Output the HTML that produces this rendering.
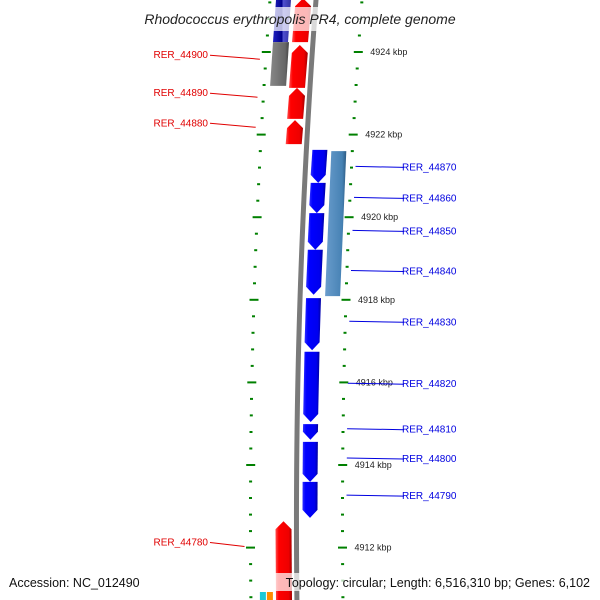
<!DOCTYPE html>
<html><head><meta charset="utf-8"><style>
html,body{margin:0;padding:0;background:#fff;}
svg{display:block;font-family:"Liberation Sans",sans-serif;}
</style></head><body>
<svg id="map" width="600" height="600" viewBox="0 0 600 600">
<defs>
<linearGradient id="gRed" x1="0" x2="1"><stop offset="0" stop-color="#ff5050"/><stop offset="0.2" stop-color="#ff0000"/><stop offset="0.8" stop-color="#ee0000"/><stop offset="1" stop-color="#a00000"/></linearGradient>
<linearGradient id="gBlue" x1="0" x2="1"><stop offset="0" stop-color="#3030ff"/><stop offset="0.2" stop-color="#0000ff"/><stop offset="0.8" stop-color="#0000ee"/><stop offset="1" stop-color="#0000a0"/></linearGradient>
<linearGradient id="gSteel" x1="0" x2="1"><stop offset="0" stop-color="#6a9ccc"/><stop offset="0.8" stop-color="#4682b4"/><stop offset="1" stop-color="#2e5c84"/></linearGradient>
<linearGradient id="gGray" x1="0" x2="1"><stop offset="0" stop-color="#888"/><stop offset="0.8" stop-color="#666"/><stop offset="1" stop-color="#444"/></linearGradient>
<linearGradient id="gNavy" x1="0" x2="1"><stop offset="0" stop-color="#2020c0"/><stop offset="0.5" stop-color="#00008b"/><stop offset="0.55" stop-color="#5050d0"/><stop offset="1" stop-color="#3030a0"/></linearGradient>
<linearGradient id="gBack" x1="0" x2="1"><stop offset="0" stop-color="#aaa"/><stop offset="0.5" stop-color="#777"/><stop offset="1" stop-color="#999"/></linearGradient>
</defs>
<g id="ticks"></g>
<path id="backbone" fill="none" stroke="#7a7a7a" stroke-width="5"/>
<g id="genes"></g>
<g id="labels"></g>
<rect x="0" y="7" width="600" height="24" fill="#fff" opacity="0.72"/>
<text x="300" y="24" text-anchor="middle" font-size="14" font-style="italic" fill="#222">Rhodococcus erythropolis PR4, complete genome</text>
<rect x="258" y="573" width="342" height="18" fill="#fff" opacity="0.72"/>
<text x="9" y="587" font-size="12.5" fill="#111">Accession: NC_012490</text>
<text x="590" y="587" text-anchor="end" font-size="12.5" fill="#111">Topology: circular; Length: 6,516,310 bp; Genes: 6,102</text>
</svg>
<script>
// tick labels (kbp)
const tickLabels = [4924, 4922, 4920, 4918, 4916, 4914, 4912];
// genes: names, start/end (kbp), strand, lane
const geneNames = ["g-top-navy","g-top-red","RER_44900","g-red-a","RER_44890","RER_44880","RER_44870","RER_44860","RER_44850","RER_44840","RER_44830","RER_44820","RER_44810","RER_44800","RER_44790","g-steel","RER_44780"];
const geneStart = [4925.3,4925.3,4924.24,4924.17,4923.13,4922.35,4921.63,4920.83,4920.10,4919.21,4918.04,4916.74,4914.99,4914.56,4913.59,4921.60,4912.64];
const geneEnd   = [4924.24,4924.24,4923.18,4923.13,4922.38,4921.77,4920.83,4920.10,4919.21,4918.12,4916.78,4915.04,4914.61,4913.59,4912.72,4918.09,4910.4];
const geneStrand= [0,1,0,1,1,1,-1,-1,-1,-1,-1,-1,-1,-1,-1,0,1];
const geneLane  = ["navy","red","gray","red","red","red","blue","blue","blue","blue","blue","blue","blue","blue","blue","steel","red"];
// label side/positions in kbp
const labelNames = ["RER_44900","RER_44890","RER_44880","RER_44780","RER_44870","RER_44860","RER_44850","RER_44840","RER_44830","RER_44820","RER_44810","RER_44800","RER_44790"];
const labelKbp   = [4923.85,4922.93,4922.2,4912.05,4921.23,4920.48,4919.68,4918.71,4917.48,4915.98,4914.88,4914.17,4913.27];
const labelSide  = [-1,-1,-1,-1,1,1,1,1,1,1,1,1,1];

const NS="http://www.w3.org/2000/svg";
const yOf = k => 52 + (4924 - k) * 41.3;
const bx = y => 316 - 0.075*y + 7.2e-5*y*y;
const laneOff = {navy:[-40,-25], red:[-21,-5], gray:[-40,-24], blue:[6,21], steel:[25,40]};
const laneFill = {navy:"url(#gNavy)", red:"url(#gRed)", gray:"url(#gGray)", blue:"url(#gBlue)", steel:"url(#gSteel)"};
function mk(tag, attrs, parent){const e=document.createElementNS(NS,tag);for(const a in attrs)e.setAttribute(a,attrs[a]);parent.appendChild(e);return e;}

// backbone
let d="";for(let y=-5;y<=605;y+=5){d+=(y===-5?"M":"L")+bx(y).toFixed(2)+","+y;}
document.getElementById("backbone").setAttribute("d",d);

// ticks
const tg=document.getElementById("ticks");
for(let k=4925.6;k>=4910.4;k-=0.4){
  const kk=Math.round(k*10)/10;const y=yOf(kk);if(y<-5||y>605)continue;
  const major=Math.abs(kk/2-Math.round(kk/2))<0.01;
  const len=major?9:3;
  [-46,46].forEach(off=>{
    const x=bx(y)+off;
    const t=mk("rect",{x:(x-len/2).toFixed(1),y:(y-1).toFixed(1),width:len,height:2,fill:"#008000"},tg);
    
    
  });
}
tickLabels.forEach(k=>{
  const y=yOf(k);
  const t=mk("text",{x:(bx(y)+58).toFixed(1),y:(y+3).toFixed(1),"font-size":"9",fill:"#222"},tg);
  t.textContent=k+" kbp";
  
  
});

// genes
const gg=document.getElementById("genes");
geneNames.forEach((n,i)=>{
  const y1=yOf(geneStart[i]), y2=yOf(geneEnd[i]);
  const o=laneOff[geneLane[i]];
  const A=(y)=>bx(y)+o[0], B=(y)=>bx(y)+o[1];
  let pts;const h=8;
  if(geneStrand[i]===1){ // arrow up at y1
    const ym=(A(y1)+B(y1))/2;
    pts=[[ym,y1],[B(y1),y1+h],[B(y2),y2],[A(y2),y2],[A(y1),y1+h]];
  } else if(geneStrand[i]===-1){ // arrow down at y2
    const xm=(A(y2)+B(y2))/2;
    pts=[[A(y1),y1],[B(y1),y1],[B(y2),y2-h],[xm,y2],[A(y2),y2-h]];
  } else {
    pts=[[A(y1),y1],[B(y1),y1],[B(y2),y2],[A(y2),y2]];
  }
  const p=mk("polygon",{points:pts.map(q=>q[0].toFixed(1)+","+q[1].toFixed(1)).join(" "),fill:laneFill[geneLane[i]]},gg);
  
  
});
// small colored bits at bottom
[["#1cc8d8",-37],["#ff8c00",-30]].forEach(c=>{
  const y=594;const r=mk("rect",{x:(bx(y)+c[1]).toFixed(1),y:592,width:6,height:10,fill:c[0]},gg);
  
  
});

// labels
const lg=document.getElementById("labels");
labelNames.forEach((n,i)=>{
  const y=yOf(labelKbp[i]);
  const col=labelSide[i]<0?"#e00000":"#0000e0";
  let x1,x2,tx,anchor;
  if(labelSide[i]<0){x2=bx(y)-52;x1=210;tx=208;anchor="end";}
  else{x1=bx(y)+50;x2=404;tx=402;anchor="start";}
  const l=mk("line",{x1:x1.toFixed(1),y1:(y+(labelSide[i]<0?-3:0)).toFixed(1),x2:x2.toFixed(1),y2:(y+(labelSide[i]<0?1:1)).toFixed(1),stroke:col,"stroke-width":"1"},lg);
  
  
  const t=mk("text",{x:tx,y:(y+(labelSide[i]<0?0:4)).toFixed(1),"text-anchor":anchor,"font-size":"10",fill:col},lg);
  t.textContent=n;
  
  
});
</script>
</body></html>
